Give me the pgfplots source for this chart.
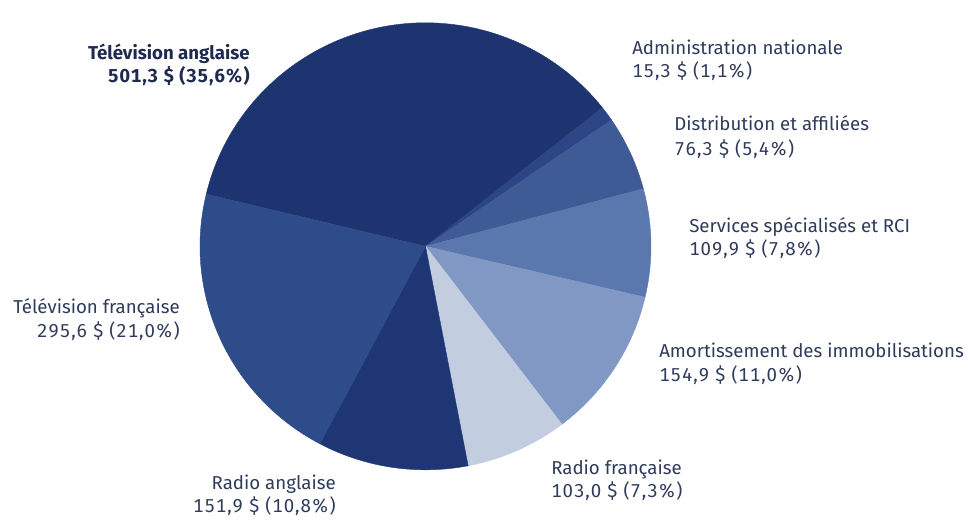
\documentclass[border=0pt]{standalone}
\usepackage{pgfplots}
\usepackage{pgfplotstable}
\pgfplotsset{compat=1.18}
\usepackage{fontspec}
\setmainfont{Fira Sans}
\newfontfamily\numfont{Fira Sans}[LetterSpace=5, Numbers=Monospaced]
\definecolor{c1}{HTML}{1D3470}
\definecolor{c2}{HTML}{2B4585}
\definecolor{c3}{HTML}{3F5B96}
\definecolor{c4}{HTML}{5A77AE}
\definecolor{c5}{HTML}{8198C4}
\definecolor{c6}{HTML}{C3CDE0}
\definecolor{c7}{HTML}{1E3774}
\definecolor{c8}{HTML}{2E4B8A}
\definecolor{txt}{HTML}{2E3B5A}
\definecolor{txtb}{HTML}{1F2A50}

\pgfplotstableread{
value col
501.3 c1
15.3 c2
76.3 c3
109.9 c4
154.9 c5
103.0 c6
151.9 c7
295.6 c8
}\piedata

\begin{document}
\begin{tikzpicture}
\pgfplotstablegetrowsof{\piedata}\pgfmathtruncatemacro\nrows{\pgfplotsretval-1}
\def\tot{0}
\pgfplotsforeachungrouped \i in {0,...,\nrows}{%
  \pgfplotstablegetelem{\i}{value}\of\piedata
  \pgfmathsetmacro\tot{\tot+\pgfplotsretval}%
}
\tikzset{lab/.style={inner sep=0pt, text=txt, font=\fontsize{14}{17}\selectfont},
  num/.style={inner sep=0pt, text=txt, font=\fontsize{14}{17}\selectfont\numfont}}
\begin{axis}[x=0.75pt, y=0.75pt, xmin=0, xmax=972, ymin=-514, ymax=0,
  hide axis, clip=false, scale only axis]
\path (axis cs:0,0) rectangle (axis cs:972,-514);
\def\cx{425.5}\def\cy{-238.5}\def\rx{225.5}\def\ry{223.5}
\def\ang{166.5}
\pgfplotsforeachungrouped \i in {0,...,\nrows}{%
  \pgfplotstablegetelem{\i}{value}\of\piedata
  \pgfmathsetmacro\sweep{\pgfplotsretval/\tot*360}%
  \pgfmathsetmacro\angb{\ang-\sweep}%
  \pgfplotstablegetelem{\i}{col}\of\piedata
  \edef\colname{\pgfplotsretval}%
  \pgfmathsetmacro\sx{\cx+\rx*cos(\ang)}%
  \pgfmathsetmacro\sy{\cy+\ry*sin(\ang)}%
  \edef\doslice{\noexpand\fill[\colname, draw=\colname, line width=0.3pt] (axis cs:\cx,\cy) -- (axis cs:\sx,\sy) arc[start angle=\ang, end angle=\angb, x radius=\rx*0.75pt, y radius=\ry*0.75pt] -- cycle;}%
  \doslice
  \global\let\ang\angb
}
% labels
\node[lab, anchor=base east, text=txtb, font=\fontsize{14}{17}\selectfont\bfseries] at (axis cs:250,-51.7) {Télévision anglaise};
\node[num, anchor=base east, text=txtb, font=\fontsize{14}{17}\selectfont\numfont\bfseries] at (axis cs:250,-75) {501,3 \$ (35,6\%)};
\node[lab, anchor=base west] at (axis cs:632,-46.7) {Administration nationale};
\node[num, anchor=base west] at (axis cs:632,-70) {15,3 \$ (1,1\%)};
\node[lab, anchor=base west] at (axis cs:674,-123) {Distribution et affiliées};
\node[num, anchor=base west] at (axis cs:674,-147.6) {76,3 \$ (5,4\%)};
\node[lab, anchor=base west] at (axis cs:689,-225) {Services spécialisés et RCI};
\node[num, anchor=base west] at (axis cs:689,-248) {109,9 \$ (7,8\%)};
\node[lab, anchor=base west] at (axis cs:659,-350) {Amortissement des immobilisations};
\node[num, anchor=base west] at (axis cs:659,-374) {154,9 \$ (11,0\%)};
\node[lab, anchor=base west] at (axis cs:551,-466.7) {Radio française};
\node[num, anchor=base west] at (axis cs:551,-490) {103,0 \$ (7,3\%)};
\node[lab, anchor=base east] at (axis cs:336,-481.7) {Radio anglaise};
\node[num, anchor=base east] at (axis cs:336,-505) {151,9 \$ (10,8\%)};
\node[lab, anchor=base east] at (axis cs:180,-306) {Télévision française};
\node[num, anchor=base east] at (axis cs:180,-330) {295,6 \$ (21,0\%)};
\end{axis}
\end{tikzpicture}
\end{document}
